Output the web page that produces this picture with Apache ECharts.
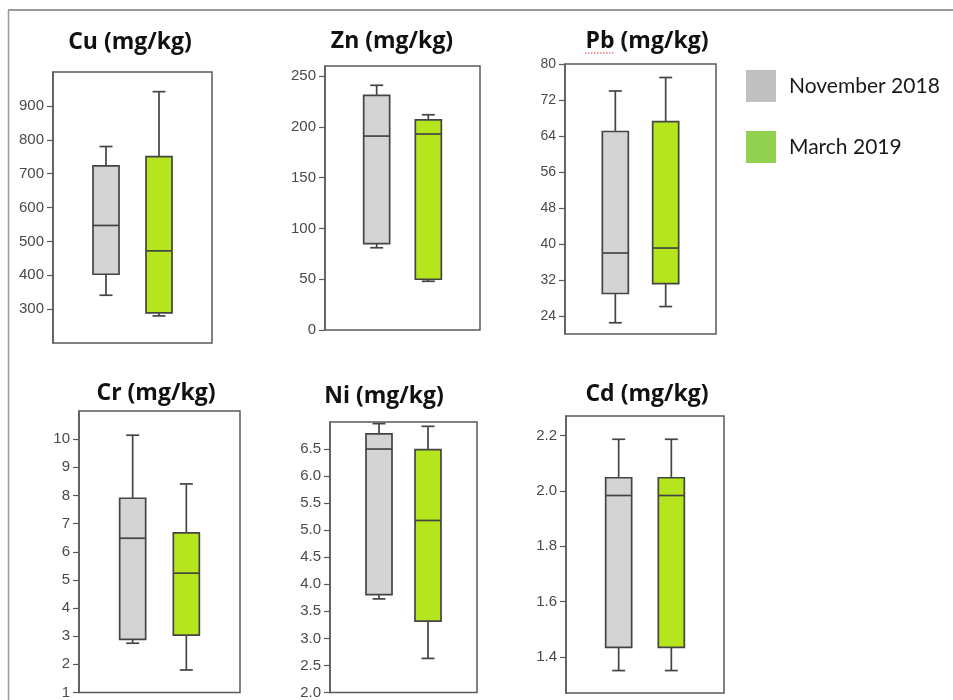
<!DOCTYPE html>
<html>
<head>
<meta charset="utf-8">
<script src="https://cdn.jsdelivr.net/npm/echarts@6/dist/echarts.min.js"></script>
<style>
  html, body { margin: 0; padding: 0; background: #fff; }
  #chart { width: 953px; height: 700px; }
</style>
</head>
<body>
<div id="chart"></div>
<script>
// ---- data ----
const categories = ['November 2018', 'March 2019'];
const titles = ['Cu (mg/kg)', 'Zn (mg/kg)', 'Pb (mg/kg)', 'Cr (mg/kg)', 'Ni (mg/kg)', 'Cd (mg/kg)'];

// [min, Q1, median, Q3, max]
const cuNov = [341, 403, 547, 723, 780];
const cuMar = [280, 289, 472, 750, 942];
const znNov = [81, 85, 191, 231, 241];
const znMar = [48, 50, 193, 207, 212];
const pbNov = [22.5, 29, 38, 65, 74];
const pbMar = [26.1, 31.2, 39.1, 67.2, 77];
const crNov = [2.75, 2.89, 6.48, 7.9, 10.14];
const crMar = [1.8, 3.04, 5.24, 6.67, 8.41];
const niNov = [3.73, 3.81, 6.5, 6.78, 6.97];
const niMar = [2.63, 3.32, 5.18, 6.49, 6.92];
const cdNov = [1.351, 1.435, 1.983, 2.047, 2.186];
const cdMar = [1.351, 1.435, 1.983, 2.047, 2.186];

// tick labels
const cuTicks = [300, 400, 500, 600, 700, 800, 900];
const znTicks = [0, 50, 100, 150, 200, 250];
const pbTicks = [24, 32, 40, 48, 56, 64, 72, 80];
const crTicks = [1, 2, 3, 4, 5, 6, 7, 8, 9, 10];
const niTicks = [2.0, 2.5, 3.0, 3.5, 4.0, 4.5, 5.0, 5.5, 6.0, 6.5];
const cdTicks = [1.4, 1.6, 1.8, 2.0, 2.2];

// axis ranges
const cuRange = [200, 1000];
const znRange = [0, 260];
const pbRange = [20, 80];
const crRange = [1, 11];
const niRange = [2, 7];
const cdRange = [1.27, 2.27];

// ---- layout / style ----
const panels = [
  { nov: cuNov, mar: cuMar, ticks: cuTicks, range: cuRange, dec: 0, grid: { left: 53, top: 72, width: 159, height: 271 }, title: [130, 42] },
  { nov: znNov, mar: znMar, ticks: znTicks, range: znRange, dec: 0, grid: { left: 325, top: 66, width: 155, height: 264 }, title: [392, 41] },
  { nov: pbNov, mar: pbMar, ticks: pbTicks, range: pbRange, dec: 0, grid: { left: 565, top: 64, width: 151, height: 270 }, title: [647, 41], fs: 14 },
  { nov: crNov, mar: crMar, ticks: crTicks, range: crRange, dec: 0, grid: { left: 79, top: 411, width: 161, height: 282 }, title: [156, 393] },
  { nov: niNov, mar: niMar, ticks: niTicks, range: niRange, dec: 1, grid: { left: 330, top: 422, width: 147, height: 272 }, title: [384, 396] },
  { nov: cdNov, mar: cdMar, ticks: cdTicks, range: cdRange, dec: 1, grid: { left: 566, top: 416, width: 158, height: 277 }, title: [647, 394] }
];

const boxFills = ['#d4d4d4', '#b5e61d'];
const legendFills = ['#c0c0c0', '#92d050'];
const strokeCol = '#444444';

function renderBox(params, api) {
  const x = api.value(0);
  const v = [1, 2, 3, 4, 5].map(i => api.value(i));
  const p = v.map(val => api.coord([x, val]));
  const cx = p[0][0];
  const hw = 13, cw = 6.5;
  const st = { stroke: strokeCol, lineWidth: 1.7, fill: null };
  const fill = boxFills[params.dataIndex];
  return {
    type: 'group',
    children: [
      { type: 'line', shape: { x1: cx, y1: p[4][1], x2: cx, y2: p[3][1] }, style: st },
      { type: 'line', shape: { x1: cx, y1: p[1][1], x2: cx, y2: p[0][1] }, style: st },
      { type: 'line', shape: { x1: cx - cw, y1: p[4][1], x2: cx + cw, y2: p[4][1] }, style: st },
      { type: 'line', shape: { x1: cx - cw, y1: p[0][1], x2: cx + cw, y2: p[0][1] }, style: st },
      { type: 'rect', shape: { x: cx - hw, y: p[3][1], width: 2 * hw, height: p[1][1] - p[3][1] },
        style: { stroke: strokeCol, lineWidth: 1.7, fill: fill } },
      { type: 'line', shape: { x1: cx - hw, y1: p[2][1], x2: cx + hw, y2: p[2][1] }, style: st }
    ]
  };
}

const grids = [], xAxes = [], yAxes = [], series = [], graphics = [];

panels.forEach((pn, i) => {
  grids.push(Object.assign({ show: true, borderColor: '#5a5a5a', borderWidth: 1.5, backgroundColor: 'transparent', containLabel: false }, pn.grid));
  xAxes.push({ type: 'value', gridIndex: i, min: 0, max: categories.length + 1, show: false });
  yAxes.push({
    type: 'value', gridIndex: i, min: pn.range[0], max: pn.range[1],
    splitLine: { show: false },
    axisLine: { show: true, lineStyle: { color: '#5a5a5a', width: 1.5 } },
    axisTick: { show: true, length: 6, customValues: pn.ticks, lineStyle: { color: '#5a5a5a', width: 1.2 } },
    axisLabel: {
      customValues: pn.ticks, margin: 9, color: '#4a4a4a',
      fontFamily: 'Liberation Sans, Arial, sans-serif', fontSize: pn.fs || 15,
      formatter: v => Number(v).toFixed(pn.dec)
    }
  });
  const data = categories.map((c, k) => [k + 1].concat(k === 0 ? pn.nov : pn.mar));
  series.push({
    type: 'custom', xAxisIndex: i, yAxisIndex: i, renderItem: renderBox,
    encode: { x: 0, y: [1, 2, 3, 4, 5] }, data: data, clip: false, silent: true
  });
  graphics.push({
    type: 'text', x: pn.title[0], y: pn.title[1],
    style: { text: titles[i], font: 'bold 23px "Open Sans", Lato, sans-serif', fill: '#111', align: 'center', verticalAlign: 'middle' }
  });
});

// spell-check style dotted underline under "Pb"
graphics.push({ type: 'line', shape: { x1: 585, y1: 53, x2: 614, y2: 53 }, style: { stroke: '#e03030', lineWidth: 1, lineDash: [1.5, 1.5] } });

// outer frame (left and top edges)
graphics.push({ type: 'line', shape: { x1: 8.5, y1: 10, x2: 8.5, y2: 700 }, style: { stroke: '#9a9a9a', lineWidth: 1.5 } });
graphics.push({ type: 'line', shape: { x1: 8, y1: 10, x2: 953, y2: 10 }, style: { stroke: '#9a9a9a', lineWidth: 2 } });

// legend
categories.forEach((c, k) => {
  const top = 70 + k * 61;
  graphics.push({ type: 'rect', shape: { x: 746, y: top, width: 30, height: 32 }, style: { fill: legendFills[k] } });
  graphics.push({ type: 'text', x: 789, y: top + 16,
    style: { text: c, font: '21px Lato, "Open Sans", sans-serif', fill: '#1a1a1a', align: 'left', verticalAlign: 'middle' } });
});

const chart = echarts.init(document.getElementById('chart'), null, { renderer: 'canvas' });
chart.setOption({
  animation: false,
  backgroundColor: '#ffffff',
  grid: grids,
  xAxis: xAxes,
  yAxis: yAxes,
  series: series,
  graphic: graphics
});
</script>
</body>
</html>
